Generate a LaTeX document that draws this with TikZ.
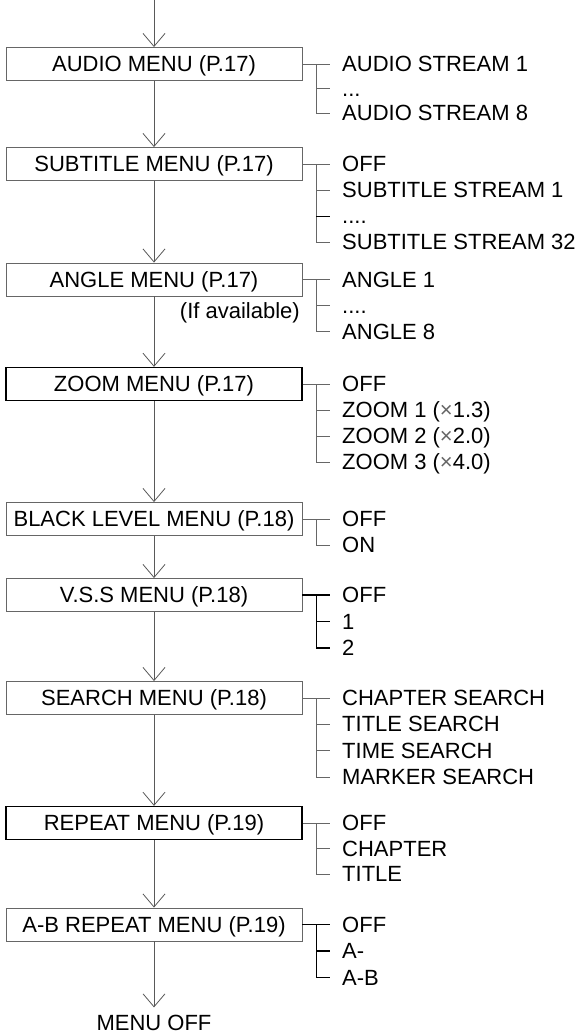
\documentclass[tikz,border=0pt]{standalone}
\usepackage{fontspec}
\setmainfont{Liberation Sans}
\usetikzlibrary{arrows.meta}
\newcommand\fsz{\fontsize{22}{26}\selectfont}
\begin{document}
\begin{tikzpicture}[x=1pt,y=1pt,
  mbox/.style={draw=black!60,line width=0.9pt,minimum width=296pt,minimum height=33pt,
    inner sep=0pt,font=\fsz,text height=15.8pt,text depth=0pt},
  mboxb/.style={mbox,draw=black,line width=1.3pt},
  item/.style={anchor=west,inner sep=0pt,font=\fsz,text height=15.8pt,text depth=0pt},
  flow/.style={draw=black!65,line width=0.8pt,-{Straight Barb[length=13pt,width=22pt,line width=0.8pt]}},
  br/.style={draw=black!60,line width=0.9pt},
  brb/.style={draw=black,line width=1.3pt}]
\useasboundingbox (0,0) rectangle (586,-1035);

% main boxes
\node[mbox]  (b1) at (154,-64)    {AUDIO MENU (P.17)};
\node[mbox]  (b2) at (154,-164)   {SUBTITLE MENU (P.17)};
\node[mbox]  (b3) at (154,-279.5) {ANGLE MENU (P.17)};
\node[mboxb] (b4) at (154,-384)   {ZOOM MENU (P.17)};
\node[mbox]  (b5) at (154,-519)   {BLACK LEVEL MENU (P.18)};
\node[mbox]  (b6) at (154,-595)   {V.S.S MENU (P.18)};
\node[mbox]  (b7) at (154,-698)   {SEARCH MENU (P.18)};
\node[mboxb] (b8) at (154,-823)   {REPEAT MENU (P.19)};
\node[mbox]  (b9) at (154,-924.5) {A-B REPEAT MENU (P.19)};
\node[font=\fsz,inner sep=0pt,text height=15.8pt,text depth=0pt] (off) at (154,-1022.5) {MENU OFF};
\node[anchor=east,inner sep=0pt,font=\fsz,text height=15.8pt,text depth=0pt] (avail) at (300,-310.5) {(If available)};
\coordinate (top) at (154,0);

% flow
\draw[flow] (top) -- (b1.north);
\draw[flow] (b1.south) -- (b2.north);
\draw[flow] (b2.south) -- (b3.north);
\draw[flow] (b3.south) -- (b4.north);
\draw[flow] (b4.south) -- (b5.north);
\draw[flow] (b5.south) -- (b6.north);
\draw[flow] (b6.south) -- (b7.north);
\draw[flow] (b7.south) -- (b8.north);
\draw[flow] (b8.south) -- (b9.north);
\draw[flow,shorten >=7pt] (b9.south) -- (off.north);

% items
\node[item] (a1) at (342,-64)    {AUDIO STREAM 1};
\node[item] (a2) at (342,-88.5)  {...};
\node[item] (a3) at (342,-113)   {AUDIO STREAM 8};

\node[item] (s1) at (342,-164) {OFF};
\node[item] (s2) at (342,-190) {SUBTITLE STREAM 1};
\node[item] (s3) at (342,-216) {....};
\node[item] (s4) at (342,-242) {SUBTITLE STREAM 32};

\node[item] (g1) at (342,-279.5) {ANGLE 1};
\node[item] (g2) at (342,-305.5) {....};
\node[item] (g3) at (342,-331.5) {ANGLE 8};

\node[item] (z1) at (342,-384) {OFF};
\node[item] (z2) at (342,-410) {ZOOM 1 ({\color{black!60}×}1.3)};
\node[item] (z3) at (342,-436) {ZOOM 2 ({\color{black!60}×}2.0)};
\node[item] (z4) at (342,-462) {ZOOM 3 ({\color{black!60}×}4.0)};

\node[item] (k1) at (342,-519) {OFF};
\node[item] (k2) at (342,-545) {ON};

\node[item] (v1) at (342,-595)   {OFF};
\node[item] (v2) at (342,-621.5) {1};
\node[item] (v3) at (342,-648)   {2};

\node[item] (r1) at (342,-698)   {CHAPTER SEARCH};
\node[item] (r2) at (342,-724)   {TITLE SEARCH};
\node[item] (r3) at (342,-750.5) {TIME SEARCH};
\node[item] (r4) at (342,-777)   {MARKER SEARCH};

\node[item] (p1) at (342,-823)   {OFF};
\node[item] (p2) at (342,-848.5) {CHAPTER};
\node[item] (p3) at (342,-874)   {TITLE};

\node[item] (q1) at (342,-924.5) {OFF};
\node[item] (q2) at (342,-951)   {A-};
\node[item] (q3) at (342,-977.5) {A-B};

% brackets
\draw[br] (b1.east) -- ([xshift=-12pt]a1.west);
\draw[br] ([xshift=14pt]b1.east) |- ([xshift=-12pt]a3.west);
\draw[br] ([xshift=14pt]b1.east |- a2.west) -- ([xshift=-12pt]a2.west);

\draw[br] (b2.east) -- ([xshift=-12pt]s1.west);
\draw[br] ([xshift=14pt]b2.east) |- ([xshift=-12pt]s4.west);
\draw[br] ([xshift=14pt]b2.east |- s2.west) -- ([xshift=-12pt]s2.west);
\draw[brb,line width=1pt] ([xshift=14pt]b2.east |- s3.west) -- ([xshift=-12pt]s3.west);

\draw[br] (b3.east) -- ([xshift=-12pt]g1.west);
\draw[br] ([xshift=14pt]b3.east) |- ([xshift=-12pt]g3.west);
\draw[br] ([xshift=14pt]b3.east |- g2.west) -- ([xshift=-12pt]g2.west);

\draw[br] (b4.east) -- ([xshift=-12pt]z1.west);
\draw[br] ([xshift=14pt]b4.east) |- ([xshift=-12pt]z4.west);
\draw[br] ([xshift=14pt]b4.east |- z2.west) -- ([xshift=-12pt]z2.west);
\draw[br] ([xshift=14pt]b4.east |- z3.west) -- ([xshift=-12pt]z3.west);

\draw[br] (b5.east) -- ([xshift=-12pt]k1.west);
\draw[br] ([xshift=14pt]b5.east) |- ([xshift=-12pt]k2.west);

\draw[brb] (b6.east) -- ([xshift=-12pt]v1.west);
\draw[brb] ([xshift=14pt]b6.east) |- ([xshift=-12pt]v3.west);
\draw[brb] ([xshift=14pt]b6.east |- v2.west) -- ([xshift=-12pt]v2.west);

\draw[br] (b7.east) -- ([xshift=-12pt]r1.west);
\draw[br] ([xshift=14pt]b7.east) |- ([xshift=-12pt]r4.west);
\draw[br] ([xshift=14pt]b7.east |- r2.west) -- ([xshift=-12pt]r2.west);
\draw[br] ([xshift=14pt]b7.east |- r3.west) -- ([xshift=-12pt]r3.west);

\draw[br] (b8.east) -- ([xshift=-12pt]p1.west);
\draw[br] ([xshift=14pt]b8.east) |- ([xshift=-12pt]p3.west);
\draw[br] ([xshift=14pt]b8.east |- p2.west) -- ([xshift=-12pt]p2.west);

\draw[brb] (b9.east) -- ([xshift=-12pt]q1.west);
\draw[brb] ([xshift=14pt]b9.east) |- ([xshift=-12pt]q3.west);
\draw[brb] ([xshift=14pt]b9.east |- q2.west) -- ([xshift=-12pt]q2.west);
\end{tikzpicture}
\end{document}
